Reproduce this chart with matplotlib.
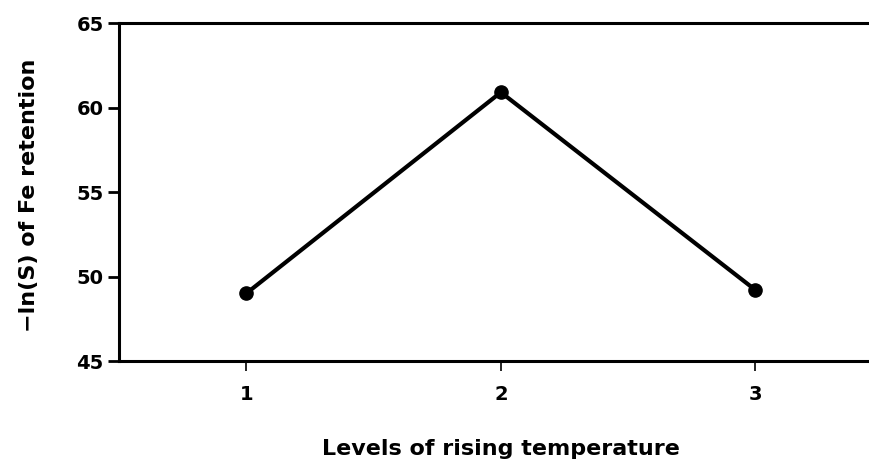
import matplotlib
matplotlib.use("Agg")
import matplotlib.pyplot as plt

levels = [1, 2, 3]
values = [49.0, 60.9, 49.2]
yticks = [45, 50, 55, 60, 65]

plt.rcParams['font.family'] = ['DejaVu Sans']

fig = plt.figure(figsize=(8.7, 4.62), dpi=100)
ax = fig.add_axes([0.1368, 0.2186, 0.8632, 0.7316])
ax.plot(levels, values, color='black', linewidth=3, marker='o', markersize=9.5)
ax.set_xlim(0.5, 3.45)
ax.set_ylim(45, 65)
ax.set_xticks(levels)
ax.set_xticklabels([str(v) for v in levels])
ax.set_yticks(yticks)
ax.spines['right'].set_visible(False)
for s in ['left', 'top', 'bottom']:
    ax.spines[s].set_linewidth(2.2)
ax.tick_params(axis='y', length=8, width=2, labelsize=14, pad=3)
ax.tick_params(axis='x', length=7, width=1.2, labelsize=14, pad=10)
for lab in ax.get_xticklabels() + ax.get_yticklabels():
    lab.set_fontweight('bold')
ax.set_xlabel('Levels of rising temperature', fontsize=16, fontweight='bold')
ax.set_ylabel('\u2212ln(S) of Fe retention', fontsize=16, fontweight='bold')
ax.xaxis.set_label_coords(0.509, -0.232)
ax.yaxis.set_label_coords(-0.107, 0.49)
fig.savefig('out.png', dpi=100)
